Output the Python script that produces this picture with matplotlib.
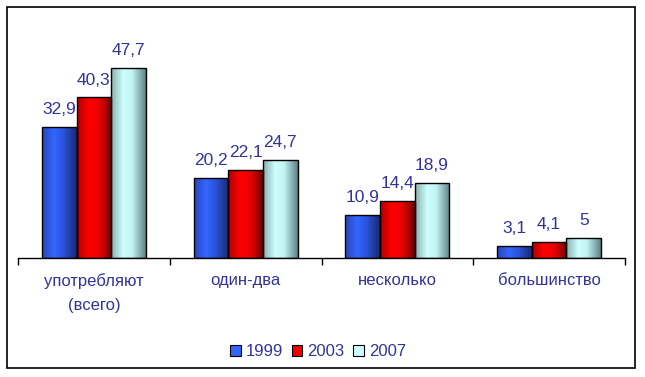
import matplotlib
matplotlib.use("Agg")
import matplotlib.pyplot as plt
import numpy as np
from matplotlib.colors import LinearSegmentedColormap
from matplotlib.patches import Rectangle, Patch

categories = ["употребляют\n(всего)", "один-два", "несколько", "большинство"]
years = ["1999", "2003", "2007"]
v1999 = [32.9, 20.2, 10.9, 3.1]
v2003 = [40.3, 22.1, 14.4, 4.1]
v2007 = [47.7, 24.7, 18.9, 5]
value_labels = [["32,9", "20,2", "10,9", "3,1"],
                ["40,3", "22,1", "14,4", "4,1"],
                ["47,7", "24,7", "18,9", "5"]]

plt.rcParams['font.family'] = ['Liberation Sans', 'DejaVu Sans']
txt_color = "#333399"

fig = plt.figure(figsize=(6.45, 3.77), dpi=100)
ax = fig.add_axes([18/645, 1-258/377, 607/645, (258-19)/377])

cmaps = [
    LinearSegmentedColormap.from_list("b", [(0, "#2a44b8"), (0.35, "#3366ff"), (0.6, "#2a55dd"), (1, "#1a2870")]),
    LinearSegmentedColormap.from_list("r", [(0, "#b00000"), (0.35, "#ff0000"), (0.65, "#e80000"), (1, "#700000")]),
    LinearSegmentedColormap.from_list("c", [(0, "#8aaeae"), (0.35, "#ccffff"), (0.6, "#c4f4f4"), (1, "#5a8282")]),
]
legend_colors = ["#3366ff", "#ee0000", "#ccffff"]

x = np.arange(len(categories))
w = 0.228
series = [v1999, v2003, v2007]
grad = np.linspace(0, 1, 256).reshape(1, -1)
for j, vals in enumerate(series):
    pos = x + (j - 1) * w
    bars = ax.bar(pos, vals, width=w, facecolor="none", edgecolor="black", linewidth=1.0, zorder=3)
    for b, lab in zip(bars, value_labels[j]):
        x0 = b.get_x(); x1 = x0 + b.get_width(); h = b.get_height()
        im = ax.imshow(grad, extent=[x0, x1, 0, h], aspect='auto', cmap=cmaps[j], zorder=2, origin='lower')
        im.set_clip_path(b)
        ax.text(x0 + b.get_width()/2, h + 3.2, lab, ha='center', va='baseline', fontsize=12.5, color=txt_color)

ax.set_xlim(-0.5, len(categories) - 0.5)
ax.set_ylim(0, 60)
for s in ["left", "right", "top"]:
    ax.spines[s].set_visible(False)
ax.spines["bottom"].set_linewidth(1.0)
ax.set_yticks([])
ax.set_xticks(x)
ax.set_xticklabels(categories, fontsize=12, color=txt_color, linespacing=1.75)
ax.tick_params(axis='x', which='major', length=0, pad=11)
ax.set_xticks(np.arange(len(categories) + 1) - 0.5, minor=True)
ax.tick_params(axis='x', which='minor', length=5, width=1.0, direction='out')
ax.set_facecolor("none")

handles = [Patch(facecolor=c, edgecolor="black", linewidth=0.8) for c in legend_colors]
leg = fig.legend(handles, years, loc='center', bbox_to_anchor=(318/645, 1-352/377), ncol=3,
                 frameon=False, fontsize=12, handlelength=0.65, handleheight=0.65,
                 handletextpad=0.3, columnspacing=0.5)
for t in leg.get_texts():
    t.set_color(txt_color)

fig.patches.append(Rectangle((7/645, 1-368/377), 628/645, 361/377, transform=fig.transFigure,
                             fill=False, edgecolor="black", linewidth=1.2))

fig.savefig("out.png", dpi=100)
